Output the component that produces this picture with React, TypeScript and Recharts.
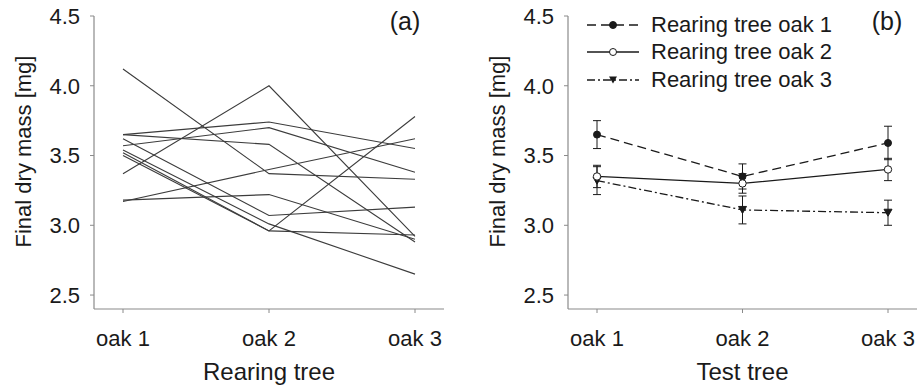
import { LineChart, Line, XAxis, YAxis, ErrorBar, Legend, Label } from "recharts";

const categories = ["oak 1", "oak 2", "oak 3"];
const yTicks = [2.5, 3.0, 3.5, 4.0, 4.5];

// (a) individual larvae: mass on oak 1 / oak 2 / oak 3
const ind1 = [4.12, 3.37, 3.33];
const ind2 = [3.37, 4.0, 2.92];
const ind3 = [3.17, 3.4, 3.62];
const ind4 = [3.18, 3.22, 2.9];
const ind5 = [3.65, 3.74, 3.55];
const ind6 = [3.57, 3.7, 3.38];
const ind7 = [3.65, 3.58, 2.88];
const ind8 = [3.62, 3.07, 3.13];
const ind9 = [3.54, 3.01, 2.65];
const ind10 = [3.52, 2.96, 3.78];
const ind11 = [3.5, 2.96, 2.93];
const individuals = [ind1, ind2, ind3, ind4, ind5, ind6, ind7, ind8, ind9, ind10, ind11];

// (b) means +- error per rearing tree
const meanOak1 = [3.65, 3.35, 3.59];
const errOak1 = [0.1, 0.09, 0.12];
const meanOak2 = [3.35, 3.3, 3.4];
const errOak2 = [0.08, 0.07, 0.08];
const meanOak3 = [3.32, 3.11, 3.09];
const errOak3 = [0.1, 0.1, 0.09];

const legendNames = ["Rearing tree oak 1", "Rearing tree oak 2", "Rearing tree oak 3"];

const dataA = categories.map((c, i) => {
  const row: Record<string, any> = { c };
  individuals.forEach((s, k) => (row["l" + k] = s[i]));
  return row;
});

const dataB = categories.map((c, i) => ({
  c,
  m1: meanOak1[i],
  e1: errOak1[i],
  m2: meanOak2[i],
  e2: errOak2[i],
  m3: meanOak3[i],
  e3: errOak3[i],
}));

const font = "'Liberation Sans', Arial, sans-serif";
const axisGrey = "#8a8a8a";
const ink = "#1a1a1a";

const tickStyle = { fontSize: 22, fill: ink, fontFamily: font };

const dashes = ["9 5", undefined, "8 3 2 3"];

const Triangle = (props: any) => {
  const { cx, cy, key } = props;
  if (cx == null || cy == null) return <g key={key} />;
  return <path key={key} d={`M${cx - 4},${cy - 3.5}L${cx + 4},${cy - 3.5}L${cx},${cy + 3.5}Z`} fill={ink} stroke={ink} />;
};

const yLabel = (props: any) => {
  const vb = props.viewBox;
  const x = vb.x + 31;
  const y = vb.y + vb.height / 2 - 11;
  return (
    <text transform={`translate(${x},${y}) rotate(-90)`} textAnchor="middle" fontSize={22} fontFamily={font} fill={ink}>
      Final dry mass [mg]
    </text>
  );
};

function Marker({ i }: { i: number }) {
  if (i === 2) return <path d="M22,3.5L30,3.5L26,10.5Z" fill={ink} />;
  return <circle cx={26} cy={7} r={3.5} fill={i === 0 ? ink : "#fff"} stroke={ink} strokeWidth={1} />;
}

function LegendBox() {
  return (
    <div style={{ fontFamily: font, fontSize: 22, color: ink }}>
      {legendNames.map((n, i) => (
        <div key={n} style={{ display: "flex", alignItems: "center", height: 27.6 }}>
          <svg width={52} height={14}>
            <line x1={0} y1={7} x2={52} y2={7} stroke={ink} strokeWidth={1.3} strokeDasharray={dashes[i]} />
            <Marker i={i} />
          </svg>
          <span style={{ marginLeft: 12, whiteSpace: "nowrap" }}>{n}</span>
        </div>
      ))}
    </div>
  );
}

function xAxis(label: string) {
  return (
    <XAxis
      dataKey="c"
      type="category"
      height={79}
      padding={{ left: 29, right: 29 }}
      tick={tickStyle}
      tickSize={4}
      tickMargin={17}
      axisLine={{ stroke: axisGrey, strokeWidth: 1.2 }}
      tickLine={{ stroke: axisGrey }}
      interval={0}
    >
      <Label value={label} position="insideBottom" offset={8} fontSize={24} fontFamily={font} fill={ink} />
    </XAxis>
  );
}

function yAxis() {
  return (
    <YAxis
      type="number"
      domain={[2.4, 4.5]}
      ticks={yTicks}
      width={94}
      tick={tickStyle}
      tickSize={4}
      tickMargin={10}
      tickFormatter={(v: number) => v.toFixed(1)}
      axisLine={{ stroke: axisGrey, strokeWidth: 1.2 }}
      tickLine={{ stroke: axisGrey }}
      allowDataOverflow
    >
      <Label content={yLabel} />
    </YAxis>
  );
}

export default function App() {
  return (
    <div style={{ position: "absolute", left: 0, top: 0, width: 917, height: 388, background: "#fff" }}>
      <div style={{ position: "absolute", left: 0, top: 0 }}>
        <LineChart width={460} height={388} data={dataA} margin={{ top: 16, right: 16, left: 0, bottom: 0 }}>
          {xAxis("Rearing tree")}
          {yAxis()}
          {individuals.map((_, k) => (
            <Line
              key={k}
              dataKey={"l" + k}
              stroke="#3c3c3c"
              strokeWidth={1.1}
              dot={false}
              activeDot={false}
              isAnimationActive={false}
            />
          ))}
        </LineChart>
      </div>
      <div style={{ position: "absolute", left: 474, top: 0 }}>
        <LineChart width={443} height={388} data={dataB} margin={{ top: 16, right: 0, left: 0, bottom: 0 }}>
          {xAxis("Test tree")}
          {yAxis()}
          <Legend
            layout="vertical"
            align="center"
            verticalAlign="middle"
            content={() => <LegendBox />}
            wrapperStyle={{ left: 113, top: 11, width: 320 }}
          />
          <Line
            dataKey="m1"
            stroke={ink}
            strokeWidth={1.3}
            strokeDasharray={dashes[0]}
            dot={{ r: 3.5, fill: ink, stroke: ink, strokeWidth: 1, strokeDasharray: "none" }}
            activeDot={false}
            isAnimationActive={false}
          >
            <ErrorBar dataKey="e1" width={4} stroke={ink} strokeWidth={1} />
          </Line>
          <Line
            dataKey="m3"
            stroke={ink}
            strokeWidth={1.3}
            strokeDasharray={dashes[2]}
            dot={Triangle}
            activeDot={false}
            isAnimationActive={false}
          >
            <ErrorBar dataKey="e3" width={4} stroke={ink} strokeWidth={1} />
          </Line>
          <Line
            dataKey="m2"
            stroke={ink}
            strokeWidth={1.3}
            dot={{ r: 3.7, fill: "#fff", stroke: ink, strokeWidth: 1 }}
            activeDot={false}
            isAnimationActive={false}
          >
            <ErrorBar dataKey="e2" width={4} stroke={ink} strokeWidth={1} />
          </Line>
        </LineChart>
      </div>
      <svg width={917} height={388} style={{ position: "absolute", left: 0, top: 0, pointerEvents: "none" }}>
        <text x={405} y={30} textAnchor="middle" fontSize={25} fontFamily={font} fill={ink}>
          (a)
        </text>
        <text x={887} y={30} textAnchor="middle" fontSize={25} fontFamily={font} fill={ink}>
          (b)
        </text>
      </svg>
    </div>
  );
}
